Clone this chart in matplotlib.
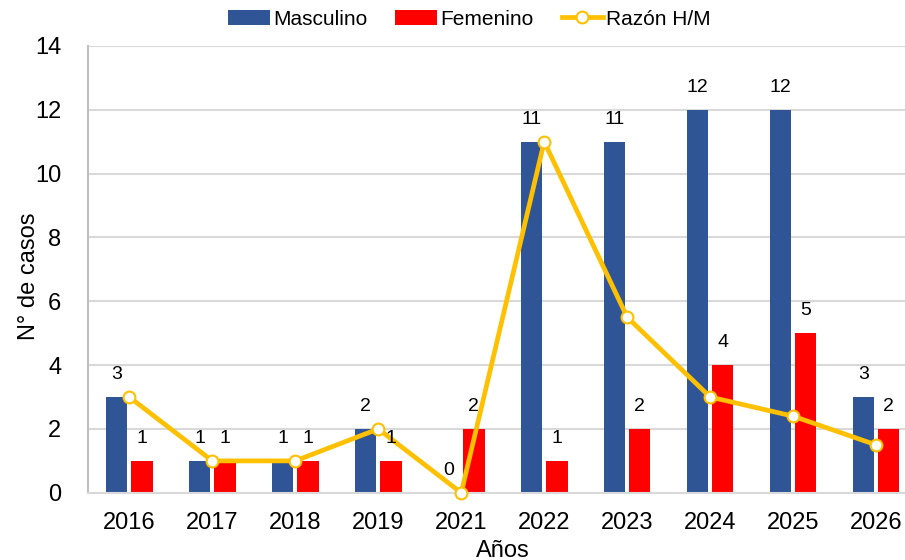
import matplotlib.pyplot as plt
import numpy as np

plt.rcParams["font.family"] = ["Liberation Sans", "DejaVu Sans"]

years = ["2016", "2017", "2018", "2019", "2021", "2022", "2023", "2024", "2025", "2026"]
masculino = [3, 1, 1, 2, 0, 11, 11, 12, 12, 3]
femenino = [1, 1, 1, 1, 2, 1, 2, 4, 5, 2]
razon = [3, 1, 1, 2, 0, 11, 5.5, 3, 2.4, 1.5]

BLUE = "#2F5597"
RED = "#FF0000"
GOLD = "#FFC000"

fig = plt.figure(figsize=(9.05, 5.6), dpi=100)
# plot area runs slightly past the right edge of the picture, as in the original
ax = fig.add_axes([0.097, 0.12, 0.917, 0.798])

x = np.arange(len(years))
w = 0.255
off = 0.153
b1 = ax.bar(x - off, masculino, width=w, color=BLUE, label="Masculino", zorder=2)
b2 = ax.bar(x + off, femenino, width=w, color=RED, label="Femenino", zorder=2)
ln, = ax.plot(x, razon, color=GOLD, lw=3.4, marker="o", markersize=8.5,
              markerfacecolor="white", markeredgecolor=GOLD, markeredgewidth=1.5,
              label="Razón H/M", zorder=3, clip_on=False)

for xi, v in zip(x - off, masculino):
    ax.annotate(str(v), (xi, v), xytext=(0, 16), textcoords="offset points",
                ha="center", va="center", fontsize=14)
for xi, v in zip(x + off, femenino):
    ax.annotate(str(v), (xi, v), xytext=(0, 16), textcoords="offset points",
                ha="center", va="center", fontsize=14)

ax.set_xlim(-0.5, len(years) - 0.5)
ax.set_ylim(0, 14)
ax.set_yticks(range(0, 15, 2))
ax.set_xticks(x)
ax.set_xticklabels(years)
ax.tick_params(axis="both", labelsize=17, length=0)
ax.tick_params(axis="x", pad=14)
ax.tick_params(axis="y", pad=19)
ax.grid(axis="y", color="#D9D9D9", lw=1.5, zorder=0)
ax.set_axisbelow(True)
for s in ["top", "right"]:
    ax.spines[s].set_visible(False)
ax.spines["left"].set_color("#BFBFBF")
ax.spines["left"].set_linewidth(1.5)
ax.spines["bottom"].set_color("#D9D9D9")
ax.spines["bottom"].set_linewidth(1.5)

ax.set_ylabel("N° de casos", fontsize=17)
ax.yaxis.set_label_coords(-0.058, 0.485)
ax.set_xlabel("Años", fontsize=17, labelpad=4)

fig.legend([b1, b2, ln], ["Masculino", "Femenino", "Razón H/M"],
           loc="center", bbox_to_anchor=(0.519, 0.966), ncol=3, frameon=False,
           fontsize=15, handlelength=2.0, handleheight=0.75, handletextpad=0.15,
           columnspacing=1.35)

fig.savefig("out.png", dpi=100)
